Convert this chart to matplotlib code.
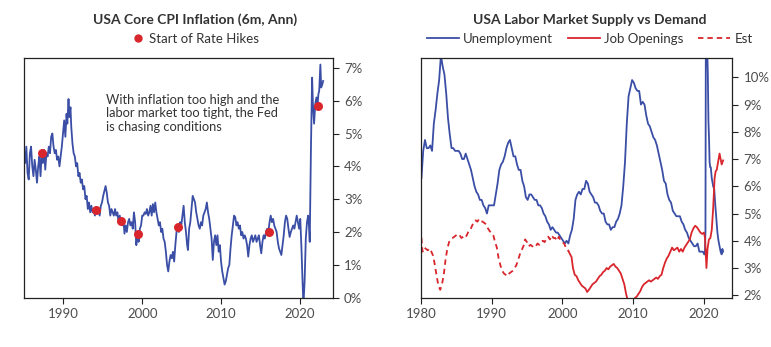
import matplotlib.pyplot as plt
from matplotlib.lines import Line2D
import numpy as np

plt.rcParams['font.family'] = ['Lato', 'DejaVu Sans']

BLUE = '#3a4ea6'
RED = '#d9262c'
TXT = '#333333'
TICK = '#4d4d4d'

# --- left panel: core CPI, 6m annualised (%) ---
cpi_year = [
    1985.0, 1985.15, 1985.3, 1985.45, 1985.6, 1985.75, 1985.9, 1986.05, 1986.2, 1986.35,
    1986.5, 1986.65, 1986.8, 1986.95, 1987.1, 1987.25, 1987.4, 1987.55, 1987.7, 1987.85,
    1988.0, 1988.15, 1988.3, 1988.45, 1988.6, 1988.75, 1988.9, 1989.05, 1989.2, 1989.35,
    1989.5, 1989.65, 1989.8, 1989.95, 1990.1, 1990.25, 1990.4, 1990.5, 1990.65, 1990.75,
    1990.9, 1991.0, 1991.15, 1991.3, 1991.45, 1991.6, 1991.75, 1991.9, 1992.05, 1992.2,
    1992.35, 1992.5, 1992.65, 1992.8, 1992.95, 1993.1, 1993.25, 1993.4, 1993.55, 1993.7,
    1993.85, 1994.0, 1994.15, 1994.3, 1994.45, 1994.6, 1994.75, 1994.9, 1995.05, 1995.2,
    1995.35, 1995.5, 1995.65, 1995.8, 1995.95, 1996.1, 1996.25, 1996.4, 1996.55, 1996.7,
    1996.85, 1997.0, 1997.15, 1997.3, 1997.45, 1997.6, 1997.75, 1997.9, 1998.05, 1998.2,
    1998.35, 1998.5, 1998.65, 1998.8, 1998.95, 1999.1, 1999.25, 1999.4, 1999.55, 1999.7,
    1999.85, 2000.0, 2000.15, 2000.3, 2000.45, 2000.6, 2000.75, 2000.9, 2001.05, 2001.2,
    2001.35, 2001.5, 2001.65, 2001.8, 2001.95, 2002.1, 2002.25, 2002.4, 2002.55, 2002.7,
    2002.85, 2003.0, 2003.15, 2003.3, 2003.45, 2003.6, 2003.75, 2003.9, 2004.05, 2004.2,
    2004.35, 2004.5, 2004.65, 2004.8, 2004.95, 2005.1, 2005.25, 2005.4, 2005.55, 2005.7,
    2005.8, 2005.95, 2006.1, 2006.25, 2006.4, 2006.55, 2006.7, 2006.85, 2007.0, 2007.15,
    2007.3, 2007.45, 2007.6, 2007.75, 2007.9, 2008.05, 2008.2, 2008.35, 2008.5, 2008.65,
    2008.8, 2008.95, 2009.1, 2009.25, 2009.4, 2009.55, 2009.7, 2009.85, 2010.0, 2010.15,
    2010.3, 2010.45, 2010.6, 2010.75, 2010.9, 2011.05, 2011.2, 2011.35, 2011.5, 2011.65,
    2011.8, 2011.95, 2012.1, 2012.25, 2012.4, 2012.55, 2012.7, 2012.85, 2013.0, 2013.15,
    2013.3, 2013.45, 2013.6, 2013.75, 2013.9, 2014.05, 2014.2, 2014.35, 2014.5, 2014.65,
    2014.8, 2014.95, 2015.1, 2015.25, 2015.4, 2015.55, 2015.7, 2015.85, 2016.0, 2016.15,
    2016.3, 2016.45, 2016.6, 2016.75, 2016.9, 2017.05, 2017.2, 2017.35, 2017.5, 2017.65,
    2017.8, 2017.95, 2018.1, 2018.25, 2018.4, 2018.55, 2018.7, 2018.85, 2019.0, 2019.15,
    2019.3, 2019.45, 2019.6, 2019.75, 2019.9, 2020.05, 2020.2, 2020.35, 2020.45, 2020.6,
    2020.75, 2020.9, 2021.05, 2021.15, 2021.25, 2021.4, 2021.55, 2021.65, 2021.8, 2021.95,
    2022.1, 2022.25, 2022.35, 2022.45, 2022.6, 2022.7, 2022.85, 2022.95]
cpi_val = [
    4.5, 4.1, 4.6, 3.8, 3.6, 4.4, 4.6, 4.0, 3.7, 4.2,
    3.9, 3.5, 4.0, 4.3, 3.7, 4.4, 4.1, 4.5, 3.9, 4.4,
    4.3, 4.6, 4.4, 4.9, 5.0, 4.6, 4.4, 4.5, 4.2, 4.3,
    4.0, 4.3, 4.6, 5.0, 5.4, 4.9, 5.6, 5.3, 6.05, 5.5,
    5.8, 5.2, 4.7, 4.4, 4.3, 4.0, 4.1, 3.7, 3.8, 3.5,
    3.6, 3.3, 3.4, 3.0, 3.1, 2.7, 2.9, 2.6, 2.8, 2.6,
    2.7, 2.5, 2.75, 2.6, 2.7, 2.5, 2.8, 2.9, 3.1, 3.25,
    3.4, 3.2, 2.9, 2.8, 2.5, 2.7, 2.6, 2.5, 2.7, 2.5,
    2.6, 2.3, 2.5, 2.3, 2.2, 2.4, 1.95, 2.2, 2.0, 2.3,
    2.4, 2.2, 2.3, 2.1, 2.6, 2.3, 1.6, 1.9, 1.7, 2.1,
    2.2, 2.5, 2.5, 2.6, 2.55, 2.7, 2.5, 2.6, 2.8, 2.5,
    2.85, 2.6, 2.9, 2.6, 2.4, 2.2, 2.3, 2.0, 2.1, 1.8,
    1.7, 1.4, 1.0, 0.8, 1.1, 1.3, 1.2, 1.4, 1.1, 1.6,
    2.0, 2.2, 2.0, 2.3, 2.2, 2.5, 2.8, 2.3, 2.0, 1.6,
    1.45, 2.1, 2.3, 2.7, 3.1, 3.0, 2.9, 2.6, 2.4, 2.2,
    2.1, 2.3, 2.2, 2.5, 2.6, 2.7, 2.9, 2.6, 2.4, 2.1,
    1.8, 1.15, 1.7, 1.9, 1.6, 1.9, 1.4, 1.6, 1.1, 0.8,
    0.6, 0.4, 0.5, 0.7, 0.9, 1.0, 1.5, 1.9, 2.2, 2.5,
    2.45, 2.2, 2.3, 2.1, 2.2, 1.9, 2.0, 1.8, 1.9, 1.8,
    1.6, 1.25, 1.6, 1.8, 1.9, 1.7, 1.8, 1.9, 1.7, 1.8,
    1.9, 1.6, 1.35, 1.7, 1.9, 1.8, 2.0, 2.1, 2.0, 2.3,
    2.5, 2.3, 2.4, 2.2, 2.1, 2.0, 1.7, 1.5, 1.4, 1.3,
    1.6, 1.9, 2.3, 2.5, 2.4, 2.1, 1.85, 2.0, 2.1, 2.2,
    2.1, 2.3, 2.5, 2.3, 2.1, 2.4, 1.5, 0.4, -0.2, 0.5,
    1.8, 2.3, 2.5, 2.2, 1.7, 4.5, 6.7, 5.9, 5.3, 5.9,
    6.1, 5.9, 6.2, 6.3, 7.1, 6.4, 6.5, 6.6]

hike_year = [1987.3, 1994.17, 1997.25, 1999.5, 2004.55, 2016.1, 2022.3]
hike_val = [4.41, 2.67, 2.35, 1.95, 2.14, 2.0, 5.84]

# --- right panel: unemployment rate, quarterly to 2019 then monthly-ish (%) ---
unemp_q = [
    6.3, 7.3, 7.7, 7.4, 7.4, 7.5, 7.3, 8.3, 8.8, 9.4, 9.9, 10.8,
    10.4, 10.1, 9.4, 8.5, 7.9, 7.4, 7.4, 7.3, 7.3, 7.3, 7.2, 7.0,
    7.0, 7.2, 7.0, 6.8, 6.6, 6.3, 6.0, 5.8, 5.7, 5.5, 5.5, 5.3,
    5.2, 5.0, 5.3, 5.3, 5.3, 5.3, 5.7, 6.1, 6.6, 6.8, 6.9, 7.1,
    7.4, 7.6, 7.7, 7.4, 7.1, 7.1, 6.8, 6.6, 6.6, 6.2, 6.0, 5.6,
    5.5, 5.7, 5.7, 5.6, 5.5, 5.5, 5.3, 5.3, 5.2, 5.0, 4.9, 4.7,
    4.6, 4.4, 4.5, 4.4, 4.3, 4.3, 4.2, 4.1, 4.0, 3.9, 4.0, 3.9,
    4.2, 4.4, 4.8, 5.5, 5.7, 5.8, 5.7, 5.9, 5.9, 6.2, 6.1, 5.8,
    5.7, 5.6, 5.4, 5.4, 5.3, 5.1, 5.0, 5.0, 4.7, 4.6, 4.6, 4.4,
    4.5, 4.5, 4.7, 4.8, 5.0, 5.3, 6.0, 6.9, 8.3, 9.3, 9.6, 9.9,
    9.8, 9.6, 9.5, 9.5, 9.0, 9.1, 9.0, 8.6, 8.3, 8.2, 8.0, 7.8,
    7.7, 7.5, 7.2, 6.9, 6.6, 6.2, 6.1, 5.7, 5.5, 5.4, 5.1, 5.0,
    4.9, 4.9, 4.9, 4.7, 4.6, 4.4, 4.3, 4.1, 4.0, 3.9, 3.8, 3.8,
    3.9, 3.6, 3.6, 3.6]
unemp_tail_year = [2020.04, 2020.13, 2020.21, 2020.29, 2020.38, 2020.46, 2020.54, 2020.63,
                   2020.71, 2020.79, 2020.88, 2020.96, 2021.1, 2021.3, 2021.45, 2021.6,
                   2021.75, 2021.9, 2022.05, 2022.2, 2022.35, 2022.5, 2022.6, 2022.7]
unemp_tail = [3.5, 3.5, 4.4, 14.7, 13.2, 11.0, 10.2, 8.4,
              7.8, 6.9, 6.7, 6.7, 6.3, 6.0, 5.9, 5.3,
              4.8, 4.3, 4.0, 3.8, 3.6, 3.5, 3.7, 3.6]

# job openings, estimated before JOLTS (dashed)
est_year = [
    1980.0, 1980.25, 1980.5, 1980.75, 1981.0, 1981.25, 1981.5, 1981.75, 1982.0, 1982.25,
    1982.5, 1982.75, 1983.0, 1983.25, 1983.5, 1983.75, 1984.0, 1984.25, 1984.5, 1984.75,
    1985.0, 1985.25, 1985.5, 1985.75, 1986.0, 1986.25, 1986.5, 1986.75, 1987.0, 1987.25,
    1987.5, 1987.75, 1988.0, 1988.25, 1988.5, 1988.75, 1989.0, 1989.25, 1989.5, 1989.75,
    1990.0, 1990.25, 1990.5, 1990.75, 1991.0, 1991.25, 1991.5, 1991.75, 1992.0, 1992.25,
    1992.5, 1992.75, 1993.0, 1993.25, 1993.5, 1993.75, 1994.0, 1994.25, 1994.5, 1994.75,
    1995.0, 1995.25, 1995.5, 1995.75, 1996.0, 1996.25, 1996.5, 1996.75, 1997.0, 1997.25,
    1997.5, 1997.75, 1998.0, 1998.25, 1998.5, 1998.75, 1999.0, 1999.25, 1999.5, 1999.75,
    2000.0, 2000.25, 2000.5, 2000.75, 2000.9]
est_val = [
    4.45, 3.6, 3.75, 3.7, 3.65, 3.72, 3.6, 3.45, 3.1, 2.7,
    2.35, 2.2, 2.4, 2.75, 3.3, 3.7, 3.95, 4.05, 4.1, 4.15,
    4.2, 4.25, 4.2, 4.1, 4.15, 4.1, 4.2, 4.35, 4.4, 4.55,
    4.7, 4.75, 4.7, 4.8, 4.72, 4.7, 4.65, 4.6, 4.45, 4.35,
    4.3, 4.2, 3.95, 3.75, 3.35, 3.1, 2.9, 2.8, 2.75, 2.7,
    2.8, 2.85, 2.9, 3.0, 3.1, 3.3, 3.5, 3.65, 3.8, 4.05,
    3.95, 3.8, 3.85, 3.8, 3.75, 3.8, 3.9, 3.85, 3.95, 4.0,
    3.95, 4.1, 4.15, 4.05, 4.2, 4.1, 4.1, 4.0, 4.15, 4.0,
    3.95, 3.9, 3.75, 3.7, 3.6]

jolts_year = [
    2000.9, 2001.1, 2001.3, 2001.5, 2001.75, 2002.0, 2002.25, 2002.5, 2002.75, 2003.0,
    2003.25, 2003.5, 2003.75, 2004.0, 2004.25, 2004.5, 2004.75, 2005.0, 2005.25, 2005.5,
    2005.75, 2006.0, 2006.25, 2006.5, 2006.75, 2007.0, 2007.25, 2007.5, 2007.75, 2008.0,
    2008.25, 2008.5, 2008.75, 2009.0, 2009.25, 2009.5, 2009.75, 2010.0, 2010.25, 2010.5,
    2010.75, 2011.0, 2011.25, 2011.5, 2011.75, 2012.0, 2012.25, 2012.5, 2012.75, 2013.0,
    2013.25, 2013.5, 2013.75, 2014.0, 2014.25, 2014.5, 2014.75, 2015.0, 2015.25, 2015.5,
    2015.75, 2016.0, 2016.25, 2016.5, 2016.75, 2017.0, 2017.25, 2017.5, 2017.75, 2018.0,
    2018.25, 2018.5, 2018.75, 2019.0, 2019.25, 2019.5, 2019.75, 2020.0, 2020.15, 2020.35,
    2020.5, 2020.7, 2020.9, 2021.1, 2021.3, 2021.5, 2021.65, 2021.8, 2022.0, 2022.2,
    2022.35, 2022.5, 2022.7]
jolts_val = [
    3.6, 3.5, 3.4, 3.0, 2.75, 2.7, 2.55, 2.45, 2.35, 2.3,
    2.25, 2.12, 2.2, 2.3, 2.4, 2.45, 2.5, 2.6, 2.7, 2.75,
    2.85, 2.9, 3.0, 2.95, 3.05, 3.1, 3.15, 3.05, 3.0, 2.9,
    2.8, 2.6, 2.4, 2.05, 1.8, 1.6, 1.55, 1.75, 1.9, 1.95,
    2.05, 2.15, 2.3, 2.4, 2.45, 2.5, 2.55, 2.5, 2.55, 2.6,
    2.65, 2.6, 2.7, 2.75, 3.0, 3.2, 3.35, 3.45, 3.6, 3.75,
    3.65, 3.7, 3.75, 3.6, 3.7, 3.6, 3.75, 3.85, 3.95, 4.05,
    4.3, 4.45, 4.55, 4.5, 4.4, 4.3, 4.25, 4.3, 4.1, 3.0,
    3.7, 4.05, 4.1, 4.4, 5.2, 6.3, 6.55, 6.6, 6.9, 7.2,
    7.0, 6.8, 6.95]

unemp_year = list(np.arange(len(unemp_q)) * 0.25 + 1980.1) + unemp_tail_year
unemp_val = unemp_q + unemp_tail


def style_axis(ax):
    for s in ax.spines.values():
        s.set_color('#222222')
        s.set_linewidth(0.9)
    ax.yaxis.tick_right()
    ax.tick_params(axis='both', direction='out', length=4, width=0.8,
                   colors='#222222', labelcolor=TICK, labelsize=9.5)
    ax.tick_params(axis='y', pad=4)


fig = plt.figure(figsize=(7.71, 3.47), dpi=100)
ax1 = fig.add_axes([0.0311, 0.1421, 0.4008, 0.6908])
ax2 = fig.add_axes([0.5457, 0.1421, 0.4041, 0.6908])

# left
ax1.plot(cpi_year, cpi_val, color=BLUE, lw=1.3)
ax1.plot(hike_year, hike_val, 'o', color=RED, ms=6.5, mec='none', zorder=3)
ax1.set_xlim(1985.0, 2024.2)
ax1.set_ylim(0, 7.3)
ax1.set_xticks([1990, 2000, 2010, 2020])
ax1.set_yticks(range(0, 8))
ax1.set_yticklabels([f'{v}%' for v in range(0, 8)])
style_axis(ax1)
ax1.text(0.267, 0.85, 'With inflation too high and the\nlabor market too tight, the Fed\nis chasing conditions',
         transform=ax1.transAxes, fontsize=9.3, color=TXT, va='top', ha='left', linespacing=1.15)

# right
ax2.plot(unemp_year, unemp_val, color=BLUE, lw=1.3)
ax2.plot(jolts_year, jolts_val, color=RED, lw=1.3)
ax2.plot(est_year, est_val, color=RED, lw=1.3, ls=(0, (3.0, 2.2)))
ax2.set_xlim(1980, 2024.0)
ax2.set_ylim(1.91, 10.71)
ax2.set_xticks([1980, 1990, 2000, 2010, 2020])
ax2.set_yticks(range(2, 11))
ax2.set_yticklabels([f'{v}%' for v in range(2, 11)])
style_axis(ax2)

# titles and legends
fig.text(0.253, 0.943, 'USA Core CPI Inflation (6m, Ann)', ha='center', va='center',
         fontsize=10, fontweight='bold', color=TXT)
fig.text(0.765, 0.943, 'USA Labor Market Supply vs Demand', ha='center', va='center',
         fontsize=10, fontweight='bold', color=TXT)

h1 = [Line2D([], [], ls='none', marker='o', color=RED, ms=6, mec='none')]
fig.legend(h1, ['Start of Rate Hikes'], loc='center', bbox_to_anchor=(0.253, 0.888),
           frameon=False, fontsize=9.5, handletextpad=0.3, labelcolor=TXT,
           borderpad=0, handlelength=1.0)

h2 = [Line2D([], [], color=BLUE, lw=1.3),
      Line2D([], [], color=RED, lw=1.3),
      Line2D([], [], color=RED, lw=1.3, ls=(0, (3.0, 2.2)))]
fig.legend(h2, ['Unemployment', 'Job Openings', 'Est'], loc='center',
           bbox_to_anchor=(0.765, 0.888), ncol=3, frameon=False, fontsize=9.5,
           handlelength=2.4, handletextpad=0.35, columnspacing=1.1, labelcolor=TXT,
           borderpad=0)

fig.savefig('out.png', dpi=100)
